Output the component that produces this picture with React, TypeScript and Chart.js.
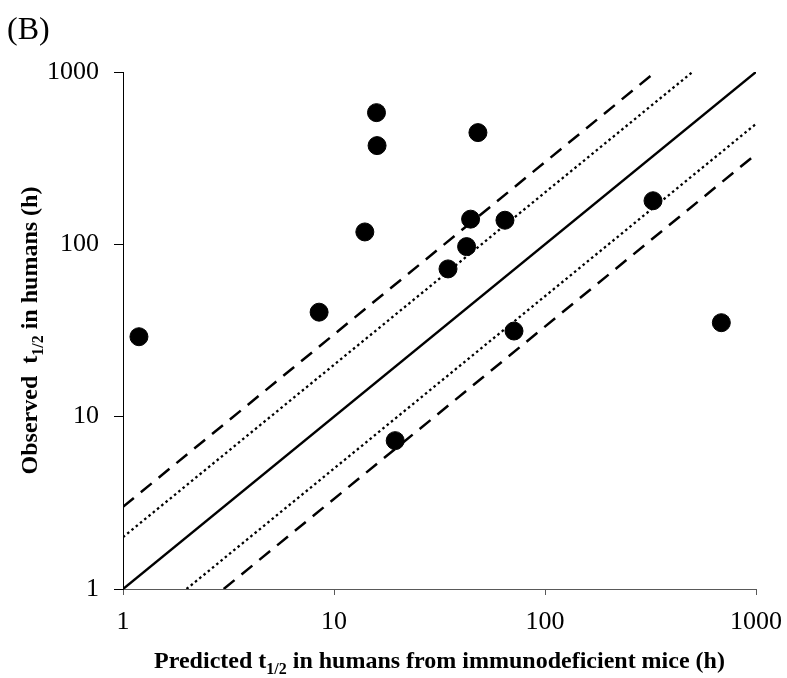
import React, { useEffect, useRef } from 'react';
import { Chart, registerables } from 'chart.js';

Chart.register(...registerables);

// Data (hours)
const predicted = [1.19, 8.5, 15.9, 16.0, 14.0, 48.1, 44.4, 64.6, 42.5, 34.7, 71.3, 325, 685, 19.5];
const observed = [29.1, 40.4, 581, 374, 118, 445, 140, 138, 97, 72, 31.4, 179, 35.1, 7.26];

const tickValues = [1, 10, 100, 1000];
const axisMin = 1;
const axisMax = 1000;

// reference lines y = k * x
const solidFactors = [1];
const dottedFactors = [2, 0.5];
const dashedFactors = [3, 1 / 3];

const panelLabel = '(B)';
const xTitleParts = ['Predicted t', '1/2', ' in humans from immunodeficient mice (h)'];
const yTitleParts = ['Observed  t', '1/2', ' in humans (h)'];

const SERIF = '"Liberation Serif", "Times New Roman", serif';

function refLine(k: number) {
  const x0 = Math.max(axisMin, axisMin / k);
  const x1 = Math.min(axisMax, axisMax / k);
  return [
    { x: x0, y: k * x0 },
    { x: x1, y: k * x1 },
  ];
}

function drawSubTitle(ctx: CanvasRenderingContext2D, parts: string[], cx: number, baseline: number) {
  const mainFont = `bold 24px ${SERIF}`;
  const subFont = `bold 16px ${SERIF}`;
  ctx.font = mainFont;
  const w0 = ctx.measureText(parts[0]).width;
  const w2 = ctx.measureText(parts[2]).width;
  ctx.font = subFont;
  const w1 = ctx.measureText(parts[1]).width;
  const total = w0 + w1 + w2;
  let x = cx - total / 2;
  ctx.textAlign = 'left';
  ctx.textBaseline = 'alphabetic';
  ctx.fillStyle = '#000';
  ctx.font = mainFont;
  ctx.fillText(parts[0], x, baseline);
  x += w0;
  ctx.font = subFont;
  ctx.fillText(parts[1], x, baseline + 6);
  x += w1;
  ctx.font = mainFont;
  ctx.fillText(parts[2], x, baseline);
}

const titlesPlugin = {
  id: 'titlesPlugin',
  afterDraw(chart: any) {
    const ctx: CanvasRenderingContext2D = chart.ctx;
    const area = chart.chartArea;
    ctx.save();
    // panel label
    ctx.font = `32px ${SERIF}`;
    ctx.fillStyle = '#000';
    ctx.textAlign = 'left';
    ctx.textBaseline = 'alphabetic';
    ctx.fillText(panelLabel, 7, 39);
    // x title
    drawSubTitle(ctx, xTitleParts, (area.left + area.right) / 2, 668);
    // y title
    ctx.translate(37, (area.top + area.bottom) / 2);
    ctx.rotate(-Math.PI / 2);
    drawSubTitle(ctx, yTitleParts, 0, 0);
    ctx.restore();
  },
};

export default function App() {
  const canvasRef = useRef<HTMLCanvasElement | null>(null);

  useEffect(() => {
    if (!canvasRef.current) return;
    const lineDataset = (k: number, dash: number[], width: number) => ({
      type: 'line' as const,
      data: refLine(k),
      borderColor: '#000',
      borderWidth: width,
      borderDash: dash,
      pointRadius: 0,
      showLine: true,
      fill: false,
      tension: 0,
    });
    const chart = new Chart(canvasRef.current, {
      type: 'scatter',
      data: {
        datasets: [
          {
            data: predicted.map((x, i) => ({ x, y: observed[i] })),
            backgroundColor: '#000',
            borderColor: '#000',
            borderWidth: 1,
            pointRadius: 9,
            pointHoverRadius: 9,
          },
          ...solidFactors.map((k) => lineDataset(k, [], 2.5)),
          ...dottedFactors.map((k) => lineDataset(k, [2.5, 3], 2.3)),
          ...dashedFactors.map((k) => lineDataset(k, [14, 9], 2.5)),
        ] as any,
      },
      options: {
        responsive: false,
        animation: false,
        layout: { padding: { top: 72, right: 31, left: 0, bottom: 0 } },
        plugins: {
          legend: { display: false },
          tooltip: { enabled: false },
          title: { display: false },
        },
        scales: {
          x: {
            type: 'logarithmic',
            min: axisMin,
            max: axisMax,
            afterBuildTicks: (s: any) => {
              s.ticks = tickValues.map((v) => ({ value: v }));
            },
            afterFit: (s: any) => {
              s.height = 89;
              s.paddingLeft = 0;
              s.paddingRight = 0;
            },
            grid: {
              drawOnChartArea: false,
              drawTicks: true,
              tickLength: 6,
              color: '#595959',
              tickWidth: 1,
            },
            border: { display: true, color: '#595959', width: 1 },
            ticks: {
              autoSkip: false,
              maxRotation: 0,
              padding: 12,
              color: '#000',
              font: { family: SERIF, size: 26 },
              callback: (v: any) => String(v),
            },
          },
          y: {
            type: 'logarithmic',
            min: axisMin,
            max: axisMax,
            afterBuildTicks: (s: any) => {
              s.ticks = tickValues.map((v) => ({ value: v }));
            },
            afterFit: (s: any) => {
              s.width = 123;
              s.paddingTop = 0;
              s.paddingBottom = 0;
            },
            grid: {
              drawOnChartArea: false,
              drawTicks: true,
              tickLength: 9,
              color: '#000',
              tickWidth: 1,
            },
            border: { display: true, color: '#000', width: 1 },
            ticks: {
              autoSkip: false,
              padding: 15,
              color: '#000',
              font: { family: SERIF, size: 26 },
              callback: (v: any) => String(v),
            },
          },
        },
      } as any,
      plugins: [titlesPlugin],
    });
    return () => chart.destroy();
  }, []);

  return (
    <div style={{ position: 'absolute', left: 0, top: 0, width: 787, height: 678, background: '#fff' }}>
      <canvas ref={canvasRef} width={787} height={678} />
    </div>
  );
}
